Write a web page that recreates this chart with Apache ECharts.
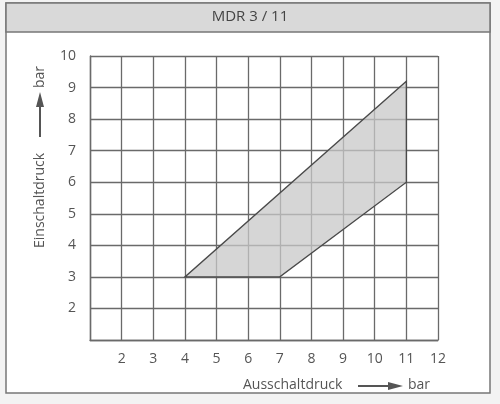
<!DOCTYPE html>
<html>
<head>
<meta charset="utf-8">
<script src="https://cdn.jsdelivr.net/npm/echarts@6/dist/echarts.min.js"></script>
<style>
html,body{margin:0;padding:0;background:#f3f3f3;}
#c{width:500px;height:404px;}
</style>
</head>
<body>
<div id="c"></div>
<script>
var title = 'MDR 3 / 11';
var xName = 'Ausschaltdruck';
var yName = 'Einschaltdruck';
var unit = 'bar';
var xRange = [1, 12];
var yRange = [1, 10];
var polyX = [4, 7, 11, 11];
var polyY = [3, 3, 6, 9.2];

var FONT = '"Liberation Sans Narrow","Open Sans",sans-serif';
var chart = echarts.init(document.getElementById('c'), null, {renderer: 'canvas'});
var gridColor = '#6a6a6a';

var polyData = polyX.map(function (x, i) { return [x, polyY[i]]; });

chart.setOption({
  backgroundColor: '#f3f3f3',
  animation: false,
  grid: {left: 90, right: 62, top: 56, bottom: 64, containLabel: false},
  xAxis: {
    type: 'value', min: xRange[0], max: xRange[1], interval: 1,
    axisLine: {show: true, lineStyle: {color: gridColor, width: 1.4}},
    axisTick: {show: false},
    splitLine: {show: true, lineStyle: {color: gridColor, width: 1.3}},
    axisLabel: {
      margin: 12, color: '#555', fontSize: 14, fontFamily: FONT,
      formatter: function (v) { return v === xRange[0] ? '' : String(v); }
    }
  },
  yAxis: {
    type: 'value', min: yRange[0], max: yRange[1], interval: 1,
    axisLine: {show: true, lineStyle: {color: gridColor, width: 1.4}},
    axisTick: {show: false},
    splitLine: {show: true, lineStyle: {color: gridColor, width: 1.3}},
    axisLabel: {
      margin: 14, color: '#555', fontSize: 14, fontFamily: FONT,
      formatter: function (v) { return v === yRange[0] ? '' : String(v); }
    }
  },
  series: [{
    type: 'custom',
    coordinateSystem: 'cartesian2d',
    data: [0],
    renderItem: function (params, api) {
      var pts = polyData.map(function (p) { return api.coord(p); });
      return {
        type: 'polygon',
        shape: {points: pts},
        style: {fill: 'rgba(200,200,200,0.75)', stroke: '#4a4a4a', lineWidth: 1.3}
      };
    },
    z: 3
  }],
  graphic: [
    {type: 'rect', shape: {x: 6, y: 3, width: 484, height: 390},
     style: {fill: '#ffffff', stroke: '#777', lineWidth: 1.5}, z: -10},
    {type: 'rect', shape: {x: 6, y: 3, width: 484, height: 29},
     style: {fill: '#d9d9d9', stroke: '#777', lineWidth: 1.5}, z: -9},
    {type: 'text', left: 'center', top: 9,
     style: {text: title, fill: '#444', fontSize: 15, fontFamily: FONT}, z: 5},
    // x axis name
    {type: 'text', x: 243, y: 385,
     style: {text: xName, fill: '#555', fontSize: 14, fontFamily: FONT, textVerticalAlign: 'middle'}},
    {type: 'line', shape: {x1: 358, y1: 386, x2: 390, y2: 386},
     style: {stroke: '#555', lineWidth: 2}},
    {type: 'polygon', shape: {points: [[388, 382], [403, 386], [388, 390]]},
     style: {fill: '#555'}},
    {type: 'text', x: 408, y: 385,
     style: {text: unit, fill: '#555', fontSize: 14, fontFamily: FONT, textVerticalAlign: 'middle'}},
    // y axis name (rotated)
    {type: 'text', x: 40, y: 248, rotation: Math.PI / 2,
     style: {text: yName, fill: '#555', fontSize: 14, fontFamily: FONT, textVerticalAlign: 'middle'}},
    {type: 'line', shape: {x1: 40, y1: 137, x2: 40, y2: 105},
     style: {stroke: '#555', lineWidth: 2}},
    {type: 'polygon', shape: {points: [[36, 107], [40, 92], [44, 107]]},
     style: {fill: '#555'}},
    {type: 'text', x: 40, y: 88, rotation: Math.PI / 2,
     style: {text: unit, fill: '#555', fontSize: 14, fontFamily: FONT, textVerticalAlign: 'middle'}}
  ]
});
</script>
</body>
</html>
